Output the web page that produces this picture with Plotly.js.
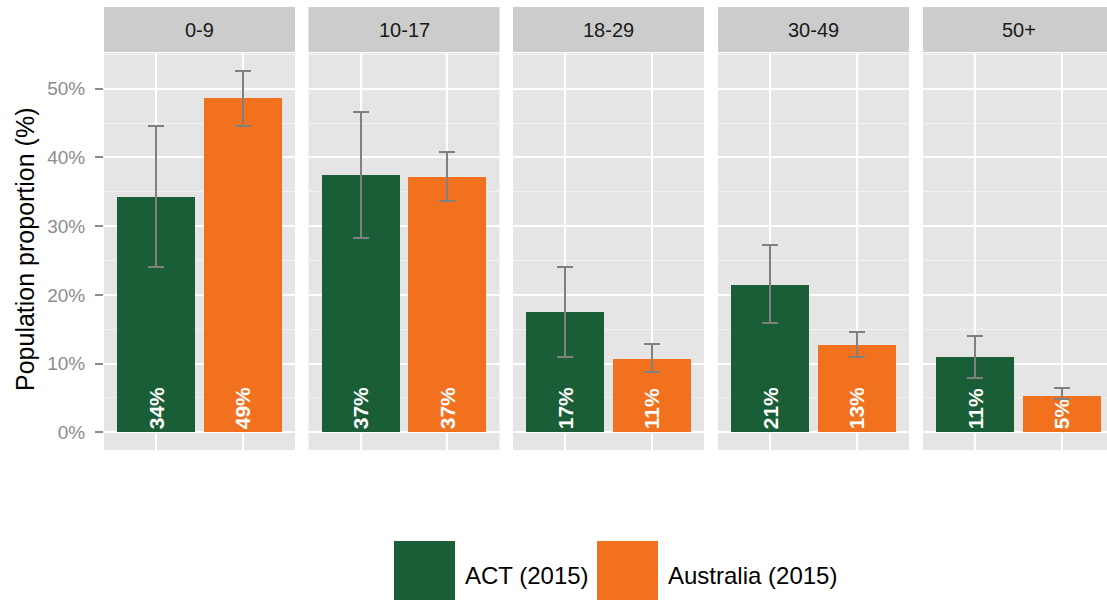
<!DOCTYPE html>
<html>
<head>
<meta charset="utf-8">
<script src="https://cdn.plot.ly/plotly-3.0.1.min.js"></script>
<style>html,body{margin:0;padding:0;background:#fff;}#chart{width:1107px;height:600px;}</style>
</head>
<body>
<div id="chart"></div>
<script>
// ---- data ----
const ageGroups = ["0-9", "10-17", "18-29", "30-49", "50+"];
const seriesNames = ["ACT (2015)", "Australia (2015)"];
const actValues = [34.3, 37.4, 17.5, 21.5, 10.9];
const actUpper  = [44.6, 46.6, 24.0, 27.3, 14.0];
const actLower  = [24.0, 28.3, 11.0, 15.9, 7.9];
const ausValues = [48.6, 37.2, 10.7, 12.7, 5.3];
const ausUpper  = [52.6, 40.8, 12.8, 14.6, 6.4];
const ausLower  = [44.6, 33.7, 8.8, 11.0, 4.9];
const actLabels = ["34%", "37%", "17%", "21%", "11%"];
const ausLabels = ["49%", "37%", "11%", "13%", "5%"];
const yTickVals = [0, 10, 20, 30, 40, 50];
const yTickText = ["0%", "10%", "20%", "30%", "40%", "50%"];

// ---- styling / geometry ----
const W = 1107, H = 600;
const ML = 104, MR = 0, MT = 0, MB = 0;
const PW = W - ML - MR, PH = H - MT - MB;
const colors = ["#1a5e37", "#f2711f"];
const panelStarts = [104, 308.5, 513, 718, 923];
const panelW = 191;
const panelTop = 53, panelBottom = 450, stripTop = 7;
const FONT = "Liberation Sans, Arial, sans-serif";

const px2x = p => (p - ML) / PW;
const px2y = p => (H - MB - p) / PH;

const yRange = [-2.58, 55.2];
const data = [];
const layout = {
  width: W, height: H,
  margin: {l: ML, r: MR, t: MT, b: MB, pad: 0},
  paper_bgcolor: "#ffffff",
  plot_bgcolor: "#e5e5e5",
  showlegend: false,
  bargap: 0,
  font: {family: FONT},
  shapes: [],
  annotations: []
};

ageGroups.forEach((g, i) => {
  const ax = i === 0 ? "" : String(i + 1);
  const s = panelStarts[i];
  const e = Math.min(W, s + panelW);
  const xr1 = 0.4 + (e - s) / panelW * 2.2;
  layout["xaxis" + ax] = {
    domain: [px2x(s), px2x(e)],
    range: [0.4, xr1],
    tickvals: [1, 2],
    showticklabels: false,
    ticks: "",
    showgrid: true, gridcolor: "#ffffff", gridwidth: 2,
    zeroline: false, showline: false, fixedrange: true,
    anchor: "y" + ax
  };
  layout["yaxis" + ax] = {
    domain: [px2y(panelBottom), px2y(panelTop)],
    range: yRange,
    tickvals: yTickVals,
    ticktext: yTickText,
    showticklabels: i === 0,
    ticks: i === 0 ? "outside" : "",
    ticklen: 8, tickwidth: 2, tickcolor: "#8a8a8a",
    ticklabelstandoff: 6,
    tickfont: {size: 19, color: "#8c8c8c", family: FONT},
    showgrid: true, gridcolor: "#ffffff", gridwidth: 2,
    minor: {dtick: 5, tick0: 5, showgrid: true, gridcolor: "#f2f2f2", gridwidth: 1, ticks: ""},
    zeroline: false, showline: false, fixedrange: true,
    anchor: "x" + ax
  };
  if (i > 0) layout["yaxis" + ax].matches = "y";

  const groups = [
    {vals: actValues, up: actUpper, lo: actLower, lab: actLabels, xpos: 1, color: colors[0], name: seriesNames[0]},
    {vals: ausValues, up: ausUpper, lo: ausLower, lab: ausLabels, xpos: 2, color: colors[1], name: seriesNames[1]}
  ];
  groups.forEach(gr => {
    data.push({
      type: "bar",
      name: gr.name,
      x: [gr.xpos],
      y: [gr.vals[i]],
      width: [0.9],
      xaxis: "x" + ax, yaxis: "y" + ax,
      marker: {color: gr.color, line: {width: 0}},
      text: [gr.lab[i]],
      textposition: "inside",
      insidetextanchor: "start",
      textangle: -90,
      constraintext: "none",
      textfont: {color: "#ffffff", size: 21, family: FONT, weight: "bold"},
      error_y: {
        type: "data", symmetric: false,
        array: [gr.up[i] - gr.vals[i]],
        arrayminus: [gr.vals[i] - gr.lo[i]],
        color: "#808080", thickness: 2, width: 8
      },
      hoverinfo: "skip"
    });
  });

  // strip
  layout.shapes.push({
    type: "rect", xref: "paper", yref: "paper",
    x0: px2x(s), x1: px2x(e), y0: px2y(panelTop - 1), y1: px2y(stripTop),
    fillcolor: "#cccccc", line: {width: 0}, layer: "below"
  });
  layout.annotations.push({
    xref: "paper", yref: "paper",
    x: px2x(s + panelW / 2), y: px2y((stripTop + panelTop) / 2),
    text: g, showarrow: false,
    font: {size: 20, color: "#1a1a1a", family: FONT},
    xanchor: "center", yanchor: "middle"
  });
});

// y-axis title
layout.annotations.push({
  xref: "paper", yref: "paper",
  x: px2x(25), y: px2y(249),
  text: "Population proportion (%)", showarrow: false, textangle: -90,
  font: {size: 25, color: "#000000", family: FONT},
  xanchor: "center", yanchor: "middle"
});

// legend
const legendKeys = [
  {x0: 394, x1: 455, tx: 463, name: seriesNames[0], color: colors[0]},
  {x0: 597, x1: 658, tx: 666, name: seriesNames[1], color: colors[1]}
];
legendKeys.forEach(k => {
  layout.shapes.push({
    type: "rect", xref: "paper", yref: "paper",
    x0: px2x(k.x0), x1: px2x(k.x1), y0: px2y(620), y1: px2y(541),
    fillcolor: k.color, line: {width: 0}
  });
  layout.annotations.push({
    xref: "paper", yref: "paper",
    x: px2x(k.tx), y: px2y(575),
    text: k.name, showarrow: false,
    font: {size: 24, color: "#000000", family: FONT},
    xanchor: "left", yanchor: "middle"
  });
});

Plotly.newPlot("chart", data, layout, {displayModeBar: false, staticPlot: true});
</script>
</body>
</html>
